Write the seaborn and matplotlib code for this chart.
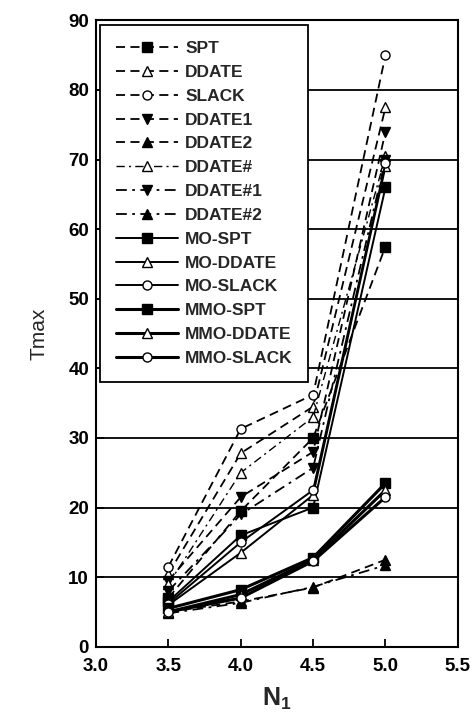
import numpy as np
import pandas as pd
import matplotlib
matplotlib.use('Agg')
import matplotlib.pyplot as plt
import seaborn as sns

# --- Dados ---
n1 = [3.5, 4.0, 4.5, 5.0]

spt = [7.0, 19.5, 30.0, 57.5]
ddate = [10.5, 27.8, 34.5, 77.5]
slack = [11.5, 31.3, 36.2, 85.0]
ddate1 = [9.5, 21.5, 28.0, 74.0]
ddate2 = [5.0, 6.5, 8.5, 12.5]
ddate_h = [9.0, 25.0, 33.0, 70.5]
ddate_h1 = [8.0, 19.0, 25.7, 70.0]
ddate_h2 = [4.8, 6.3, 8.6, 11.7]
mo_spt = [6.5, 16.0, 20.0, 66.0]
mo_ddate = [6.0, 13.5, 21.8, 69.0]
mo_slack = [6.2, 15.0, 22.5, 69.5]
mmo_spt = [5.5, 8.2, 12.8, 23.5]
mmo_ddate = [5.0, 7.5, 12.5, 22.5]
mmo_slack = [5.0, 7.0, 12.3, 21.5]

series_names = ['SPT', 'DDATE', 'SLACK', 'DDATE1', 'DDATE2', 'DDATE#', 'DDATE#1', 'DDATE#2',
                'MO-SPT', 'MO-DDATE', 'MO-SLACK', 'MMO-SPT', 'MMO-DDATE', 'MMO-SLACK']
series_values = [spt, ddate, slack, ddate1, ddate2, ddate_h, ddate_h1, ddate_h2,
                 mo_spt, mo_ddate, mo_slack, mmo_spt, mmo_ddate, mmo_slack]

# estilo de cada série: (marcador, preenchido, traço, espessura)
dash = (0, (5, 3))
dashdot = (0, (6, 3, 1.5, 3))
styles = {
    'SPT': ('s', True, dash, 1.3),
    'DDATE': ('^', False, dash, 1.3),
    'SLACK': ('o', False, dash, 1.3),
    'DDATE1': ('v', True, dash, 1.3),
    'DDATE2': ('^', True, dash, 1.3),
    'DDATE#': ('^', False, dashdot, 1.0),
    'DDATE#1': ('v', True, dashdot, 1.3),
    'DDATE#2': ('^', True, dashdot, 1.3),
    'MO-SPT': ('s', True, '-', 1.4),
    'MO-DDATE': ('^', False, '-', 1.4),
    'MO-SLACK': ('o', False, '-', 1.4),
    'MMO-SPT': ('s', True, '-', 2.2),
    'MMO-DDATE': ('^', False, '-', 2.2),
    'MMO-SLACK': ('o', False, '-', 2.2),
}

sns.set_style("white")
plt.rcParams['font.family'] = ['Liberation Sans', 'DejaVu Sans']
plt.rcParams['mathtext.default'] = 'regular'

fig = plt.figure(figsize=(4.73, 7.25), dpi=100)
ax = fig.add_axes([0.203, 0.108, 0.765, 0.864])

for name, vals in zip(series_names, series_values):
    marker, filled, ls, lw = styles[name]
    sns.lineplot(x=n1, y=vals, ax=ax, color='black', linestyle=ls, linewidth=lw,
                 marker=marker, markersize=6.5,
                 markerfacecolor='black' if filled else 'white',
                 markeredgecolor='black', markeredgewidth=1.0, label=name)

ax.set_xlim(3.0, 5.5)
ax.set_ylim(0, 90)
ax.set_xticks([3.0, 3.5, 4.0, 4.5, 5.0, 5.5])
ax.set_xticklabels(['3.0', '3.5', '4.0', '4.5', '5.0', '5.5'])
ax.set_yticks(range(0, 91, 10))
ax.yaxis.grid(True, color='black', linewidth=1.3)
ax.xaxis.grid(False)
ax.set_axisbelow(True)
for s in ax.spines.values():
    s.set_color('black')
    s.set_linewidth(1.5)
ax.tick_params(axis='both', direction='in', length=6, width=1.3, colors='black',
               labelsize=13.5, bottom=True, left=True)
ax.tick_params(axis='x', pad=8)
ax.tick_params(axis='y', pad=5)
for lab in ax.get_xticklabels() + ax.get_yticklabels():
    lab.set_fontweight('bold')

ax.set_ylabel('Tmax', fontsize=15, labelpad=14)
ax.set_xlabel(r'N$_{1}$', fontsize=18, fontweight='bold', labelpad=8)

leg = ax.legend(loc='upper left', bbox_to_anchor=(0.011, 0.992), borderaxespad=0,
                frameon=True, fancybox=False, edgecolor='black', framealpha=1,
                handlelength=3.6, labelspacing=0.5, borderpad=0.9, handletextpad=0.4,
                prop={'weight': 'bold', 'size': 12.5})
leg.get_frame().set_linewidth(1.3)

plt.savefig('out.png', dpi=100)
plt.close()
